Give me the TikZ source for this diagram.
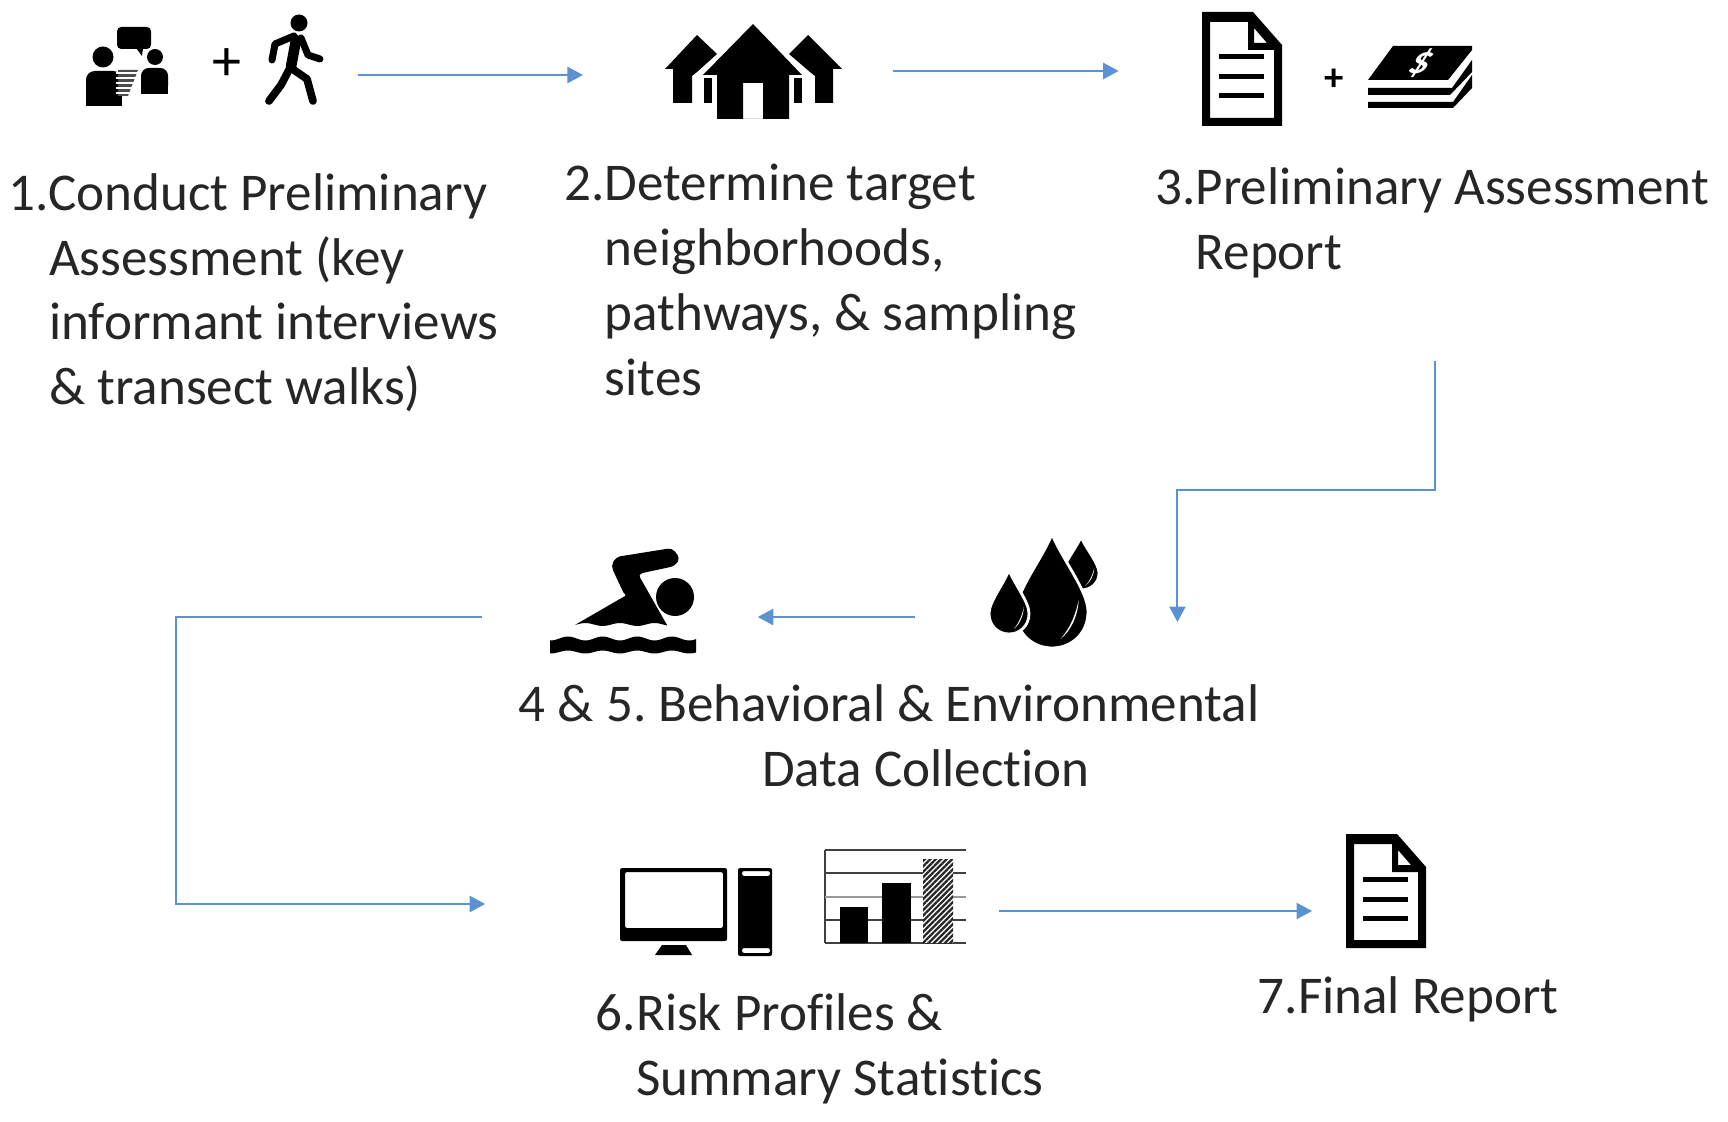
\documentclass[tikz,border=0pt]{standalone}
\usepackage{fontspec}
\setmainfont{Carlito}[Ligatures=NoCommon]
\usepackage{tikz}
\usepackage{xcolor}
\definecolor{flowblue}{RGB}{91, 146, 209}
\definecolor{textgray}{RGB}{38, 38, 38}
\usetikzlibrary{arrows.meta, positioning, patterns.meta}
\frenchspacing

\begin{document}
\begin{tikzpicture}[x=0.01cm, y=-0.01cm,
  iconbox/.style={inner sep=0pt, minimum height=1cm},
  steptext/.style={inner sep=0pt, align=left, text=textgray, font=\fontsize{15.1}{18.4}\selectfont},
  flow/.style={draw=flowblue, line width=0.55pt, -{Triangle[length=4.4pt, width=4.6pt, flowblue]}},
  docicon/.pic={
    \fill[even odd rule] (0,0) -- (51,0) -- (80,33) -- (80,114) -- (0,114) -- cycle
       (8,10) -- (46,10) -- (46,38) -- (72,38) -- (72,106) -- (8,106) -- cycle
       (52,16) -- (52,31) -- (65,31) -- cycle;
    \foreach \ly in {45,65,84} \fill (17,\ly-2.5) rectangle (62,\ly+2.5);
  },
  dropicon/.pic={
    \path[fill=black, draw=white, line width=0.8pt] (0,0) .. controls (-14,22) and (-50,50) .. (-50,68)
       .. controls (-50,88) and (-26,100) .. (0,100) .. controls (26,100) and (50,88) .. (50,68)
       .. controls (50,50) and (14,22) .. (0,0) -- cycle;
    \fill[white] (37,58) .. controls (36,72) and (26,85) .. (12,92) .. controls (26,82) and (33,70) .. (37,58) -- cycle;
  }]
  \useasboundingbox (0,0) rectangle (1728,1122);

  % icon places
  \node[iconbox, minimum width=3.48cm] (meet) at (183,75) {};
  \node[iconbox, minimum width=3.08cm, right=2.25cm of meet] (homes) {};
  \node[iconbox, minimum width=3.61cm, right=2.26cm of homes] (reportpic) {};
  \node[iconbox, minimum width=2.74cm] (swim) at (620,617) {};
  \node[iconbox, minimum width=2.61cm, right=1.57cm of swim] (drops) {};
  \node[iconbox, minimum width=5.12cm] (compute) at (742,911) {};
  \node[iconbox, minimum width=1.2cm, right=3.13cm of compute] (finalpic) {};
  \coordinate (reportout) at (1435,361);

  % labels
  \node[steptext, below right=0.47cm and 0cm of meet.south west] (conduct)
    {1.Conduct Preliminary\\\phantom{1.}Assessment (key\\\phantom{1.}informant interviews\\\phantom{1.}\& transect walks)};
  \node[steptext, below right=0.38cm and -0.19cm of homes.south west] (target)
    {2.Determine target\\\phantom{2.}neighborhoods,\\\phantom{2.}pathways, \& sampling\\\phantom{2.}sites};
  \node[steptext, below right=0.41cm and 0.36cm of reportpic.south west] (prelim)
    {3.Preliminary Assessment\\\phantom{3.}Report};
  \node[steptext, below right=0.16cm and 0.36cm of swim.south west] (collect)
    {4 \& 5. Behavioral \& Environmental\\\hspace*{2.43cm}Data Collection};
  \node[steptext, below right=0.31cm and 1.1cm of compute.south west] (risk)
    {6.Risk Profiles \&\\\phantom{6.}Summary Statistics};
  \node[steptext, below right=0.14cm and -0.55cm of finalpic.south west] (final)
    {7.Final Report};

  % people talking
  \fill (103,57) circle (10.5);
  \fill[rounded corners=2.5pt] (86,106) -- (86,71) -- (122,71) -- (122,106) -- (86,106) -- cycle;
  \fill (86,95) rectangle (122,106);
  \fill (155,57) circle (8);
  \fill[rounded corners=2.2pt] (141,94) -- (141,68) -- (168,68) -- (168,94) -- cycle;
  \fill (141,85) rectangle (168,94);
  \fill[rounded corners=1.2pt] (117,27) rectangle (151,49);
  \fill (136,48) -- (142,56) -- (143,48) -- cycle;
  \fill[black!70] (118,70) -- (138,70) -- (128,96) -- (118,96) -- cycle;
  \foreach \ly in {73,78,...,93} \draw[white, line width=0.3pt] (116,\ly) -- (140,\ly);
  \node[font=\fontsize{16.5}{16.5}\selectfont, text=black] (plusa) at (227,65) {+};

  % walker
  \fill (299,23) circle (8.5);
  \draw[line width=3pt, line cap=round, line join=round] (296,40) -- (291,67);
  \draw[line width=2pt, line cap=round, line join=round] (294,36) -- (275,44) -- (272,60);
  \draw[line width=2pt, line cap=round, line join=round] (301,38) -- (308,55) -- (320,59);
  \draw[line width=2.2pt, line cap=round, line join=round] (290,68) -- (281,85) -- (269,101);
  \draw[line width=2.2pt, line cap=round, line join=round] (291,68) -- (307,79) -- (313,101);

  % houses
  \fill (697,35) -- (717,54) -- (697,72) -- (692,76) -- (692,103) -- (673,103) -- (673,69) -- (665,69) -- cycle;
  \fill (808,35) -- (842,69) -- (833,69) -- (833,103) -- (815,103) -- (815,76) -- (810,72) -- (789,54) -- cycle;
  \fill (704,78) rectangle (712,103);
  \fill (794,78) rectangle (802,103);
  \fill[even odd rule] (753,24) -- (802,75) -- (789,75) -- (789,119) -- (717,119) -- (717,75) -- (703,75) -- cycle
     (743,83) rectangle (763,119);

  % report and money
  \pic at (1202,12) {docicon};
  \node[font=\bfseries\fontsize{11}{11}\selectfont] (plusb) at (1334,80) {+};
  \fill (1368,80) -- (1393,46) -- (1472,46) -- (1472,50) -- (1448,80) -- cycle;
  \fill (1368,88) -- (1452,88) -- (1472,60) -- (1472,72) -- (1450,95) -- (1368,95) -- cycle;
  \fill (1368,102) -- (1453,102) -- (1472,75) -- (1472,88) -- (1453,108) -- (1368,108) -- cycle;
  \node[white, xslant=0.45, font=\bfseries\itshape\fontsize{11}{11}\selectfont, inner sep=0pt] (dollar) at (1421,63) {\$};

  % swimmer
  \fill (675,597) ellipse (19 and 19);
  \fill[rounded corners=1.2pt] (616,557) -- (672,548) -- (680,558) -- (675,566) -- (638,574) -- (650,600) -- (625,596) -- (611,566) -- cycle;
  \fill (638,574) -- (667,625) -- plot[domain=667:575, samples=30] (\x,{624.5+1.5*cos(10.4*(\x-568))}) -- (625,596) -- cycle;
  \fill plot[domain=550:696, samples=70] (\x,{638.5-2*cos(10.4*(\x-568))}) -- plot[domain=696:550, samples=70] (\x,{652-1.5*cos(10.4*(\x-568))}) -- cycle;

  % water drops
  \pic[xscale=0.36, yscale=0.53] at (1081,537) {dropicon};
  \pic[xscale=0.72, yscale=1.14] at (1052,534) {dropicon};
  \pic[xscale=0.4, yscale=0.64] at (1009,570) {dropicon};

  % computer
  \fill[even odd rule, rounded corners=0.6pt] (620,868) rectangle (727,941) (625,872) rectangle (723,928);
  \fill (662,945) -- (686,945) -- (692,955) -- (655,955) -- cycle;
  \fill[even odd rule, rounded corners=0.6pt] (738,868) rectangle (772,956) (742,871) rectangle (770,876) (742,948) rectangle (770,953);

  % chart
  \draw[black!75, line width=0.4pt] (825,850) -- (825,943);
  \foreach \ly in {850,873,920,943} \draw[black!75, line width=0.35pt] (825,\ly) -- (966,\ly);
  \draw[black!40, line width=0.6pt] (825,897) -- (966,897);
  \fill (840,907) rectangle (868,943);
  \fill (882,883) rectangle (911,943);
  \fill[white] (923,859) rectangle (953,943);
  \path[pattern={Lines[angle=45, distance=1.1pt, line width=0.65pt]}, pattern color=black!85] (923,859) rectangle (953,943);

  \pic at (1346,834) {docicon};

  % connectors
  \draw[flow] (meet) -- (homes);
  \draw[flow] ([yshift=0.04cm]homes.east) -- ([yshift=0.04cm]reportpic.west);
  \draw[flow] (reportout) -- ++(0,129) -| ([yshift=-0.05cm]drops.east);
  \draw[flow] (drops) -- (swim);
  \draw[flow] (swim.west) -- ++(-306,0) |- ([yshift=0.07cm]compute.west);
  \draw[flow] (compute) -- (finalpic);
\end{tikzpicture}
\end{document}
